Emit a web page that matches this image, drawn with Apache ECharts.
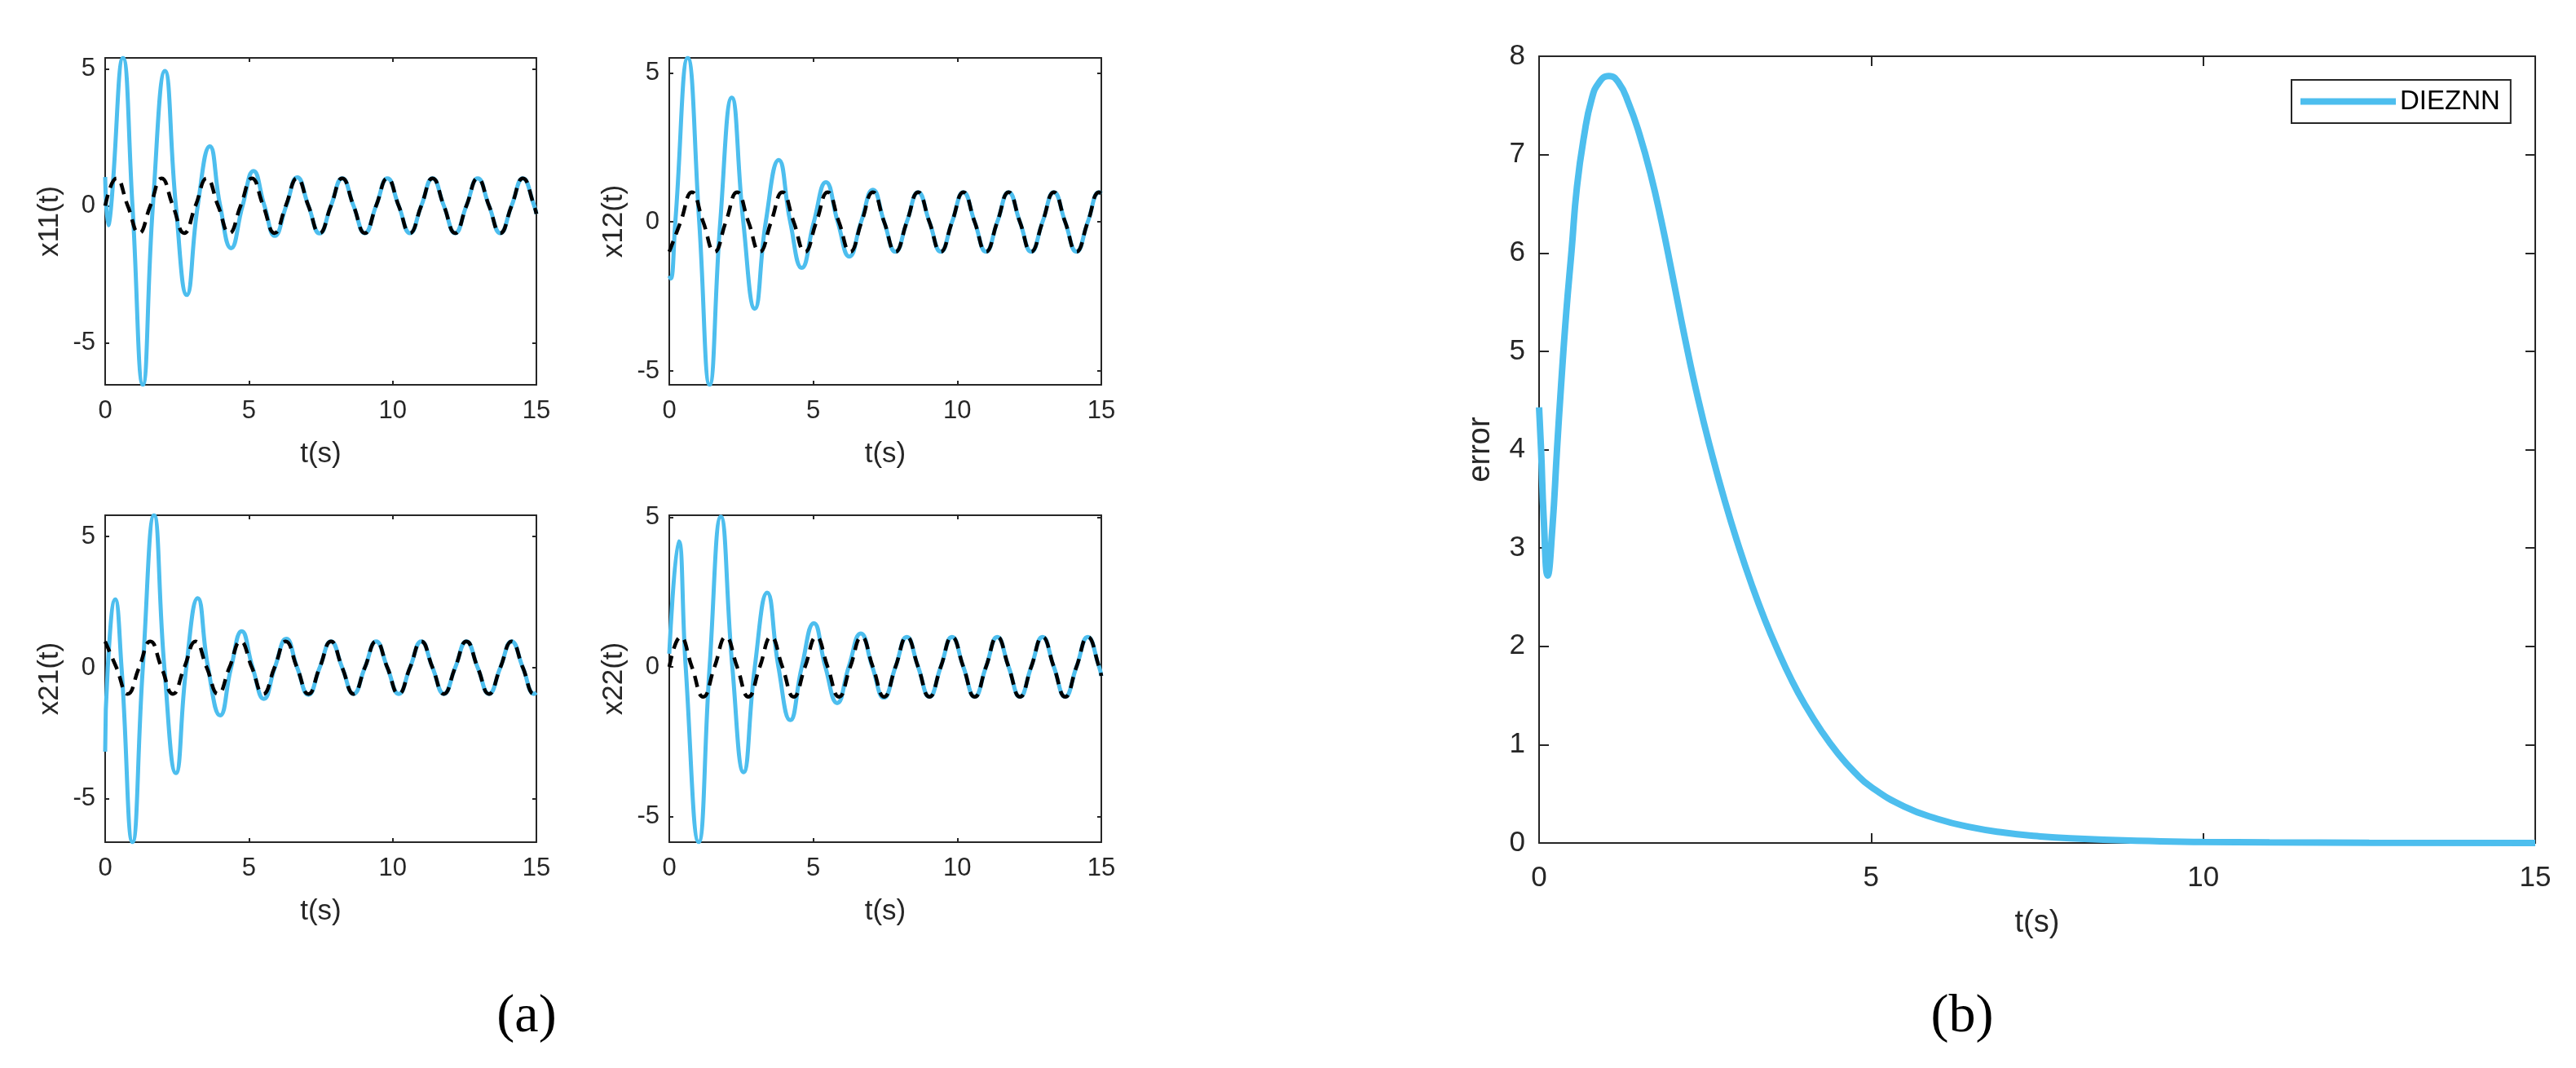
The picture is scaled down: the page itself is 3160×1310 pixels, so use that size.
<!DOCTYPE html>
<html><head><meta charset="utf-8">
<script src="https://cdn.jsdelivr.net/npm/echarts@6/dist/echarts.min.js"></script>
<style>html,body{margin:0;padding:0;background:#fff}#c{width:3160px;height:1310px}</style>
</head><body><div id="c"></div>
<script>
// ---------- data ----------
// time grid of the reference (theoretical) trajectories, quarter period of 4t
const refT = [0,0.393,0.785,1.178,1.571,1.963,2.356,2.749,3.142,3.534,3.927,4.320,4.712,5.105,5.498,5.890,6.283,6.676,7.069,7.461,7.854,8.247,8.639,9.032,9.425,9.817,10.210,10.603,10.996,11.388,11.781,12.174,12.566,12.959,13.352,13.744,14.137,14.530,14.923,15];
const x11Ref = [0,1,0,-1, 0,1,0,-1, 0,1,0,-1, 0,1,0,-1, 0,1,0,-1, 0,1,0,-1, 0,1,0,-1, 0,1,0,-1, 0,1,0,-1, 0,1,0,-0.3];
const x12Ref = [-1,0,1,0, -1,0,1,0, -1,0,1,0, -1,0,1,0, -1,0,1,0, -1,0,1,0, -1,0,1,0, -1,0,1,0, -1,0,1,0, -1,0,1,0.95];
const x21Ref = [1,0,-1,0, 1,0,-1,0, 1,0,-1,0, 1,0,-1,0, 1,0,-1,0, 1,0,-1,0, 1,0,-1,0, 1,0,-1,0, 1,0,-1,0, 1,0,-1,-0.95];
const x22Ref = [0,1,0,-1, 0,1,0,-1, 0,1,0,-1, 0,1,0,-1, 0,1,0,-1, 0,1,0,-1, 0,1,0,-1, 0,1,0,-1, 0,1,0,-1, 0,1,0,-0.3];

// DIEZNN solution, transient part (extrema and zero crossings); afterwards it lies on the reference
const x11T = [0,0.11,0.21,0.62,0.95,1.31,1.66,2.08,2.46,2.84,3.22,3.64,4.00,4.38,4.78,5.16,5.54,5.90,6.30,6.68,7.07,7.46];
const x11V = [1.05,-0.71,0,5.40,0,-6.54,0,4.92,0,-3.26,0,2.17,0,-1.55,0,1.27,0,-1.10,0,1.04,0,-1.01];
const x12T = [0,0.05,0.21,0.64,1.04,1.40,1.77,2.17,2.57,2.97,3.35,3.80,4.20,4.60,5.02,5.44,5.85,6.25,6.66,7.07];
const x12V = [-1.81,-1.90,0,5.50,0,-5.46,0,4.17,0,-2.91,0,2.08,0,-1.54,0,1.33,0,-1.16,0,1.08];
const x21T = [0,0.09,0.35,0.57,0.95,1.31,1.70,2.06,2.46,2.82,3.22,3.58,4.00,4.38,4.75,5.13,5.52,5.90,6.30,6.68,7.07];
const x21V = [-3.2,0,2.6,0,-6.65,0,5.81,0,-4.02,0,2.65,0,-1.82,0,1.39,0,-1.19,0,1.10,0,-1.03];
const x22T = [0,0.33,0.57,1.02,1.40,1.79,2.19,2.58,2.97,3.40,3.79,4.20,4.60,5.02,5.42,5.83,6.23,6.65,7.05,7.45];
const x22V = [0.44,4.2,0,-5.86,0,5.02,0,-3.52,0,2.48,0,-1.78,0,1.46,0,-1.21,0,1.12,0,-1.03];

// residual error of DIEZNN
const errT = [0,0.03,0.07,0.13,0.20,0.27,0.33,0.41,0.49,0.57,0.68,0.79,0.90,1.05,1.20,1.35,1.51,1.68,1.84,2.00,2.20,2.40,2.60,2.80,3.00,3.20,3.40,3.60,3.80,4.00,4.25,4.50,4.75,5.00,5.50,6.00,6.50,7.00,7.50,8.00,9.00,10.0,11.0,12.5,15.0];
const errV = [4.43,4.0,3.3,2.72,3.2,4.0,4.64,5.4,6.03,6.67,7.2,7.56,7.73,7.80,7.73,7.52,7.21,6.80,6.33,5.80,5.12,4.50,3.96,3.47,3.03,2.63,2.27,1.95,1.66,1.41,1.14,0.91,0.72,0.57,0.37,0.245,0.16,0.105,0.07,0.047,0.022,0.011,0.006,0.003,0.001];

const xTicks = [0,5,10,15];
const stateTicks = [-5,0,5];
const errTicks = [0,1,2,3,4,5,6,7,8];
const stateNames = ['x11(t)','x12(t)','x21(t)','x22(t)'];
const xName = 't(s)';
const errName = 'error';
const legendName = 'DIEZNN';
const panelLabels = ['(a)','(b)'];
// axis limits (tight to data) per panel
const stateYMin = [-6.54,-5.46,-6.65,-5.86];
const stateYMax = [5.40,5.50,5.81,5.07];

// ---------- build ----------
const FF = "'Liberation Sans', Arial, Helvetica, sans-serif";
const AX = '#262626';
const BLUE = '#4DBEEE';
function zip(t, v){ return t.map((x,i)=>[x, v[i]]); }
function merge(t, v, rt, rv){
  const last = t[t.length-1];
  const out = zip(t, v);
  rt.forEach((x,i)=>{ if (x > last + 0.2) out.push([x, rv[i]]); });
  return out;
}
const blueData = [merge(x11T,x11V,refT,x11Ref), merge(x12T,x12V,refT,x12Ref), merge(x21T,x21V,refT,x21Ref), merge(x22T,x22V,refT,x22Ref)];
const refData = [zip(refT,x11Ref), zip(refT,x12Ref), zip(refT,x21Ref), zip(refT,x22Ref)];

const gridPos = [
  {left:129, top:71, width:529, height:401},
  {left:821, top:71, width:530, height:401},
  {left:129, top:632, width:529, height:401},
  {left:821, top:632, width:530, height:401},
  {left:1888, top:69, width:1222, height:965}
];
const grid = gridPos.map(g=>Object.assign({containLabel:false, show:false}, g));
const xAxis = [], yAxis = [], series = [];

function mkX(gi, pos, show, tickLen, fs, margin, nameGap, nfs){
  return {type:'value', gridIndex:gi, position:pos, min:0, max:15, interval:5,
    axisLine:{show:true, onZero:false, lineStyle:{color:AX, width:2}},
    axisTick:{show:true, inside:true, length:tickLen, lineStyle:{color:AX, width:2}, customValues:xTicks},
    axisLabel:{show:show, margin:margin, fontSize:fs, color:AX, fontFamily:FF, customValues:xTicks},
    splitLine:{show:false},
    name: show ? xName : '', nameLocation:'middle', nameGap:nameGap,
    nameTextStyle:{fontSize:nfs, color:AX, fontFamily:FF}};
}
function mkY(gi, pos, show, min, max, ticks, tickLen, fs, margin, name, nameGap, nfs){
  return {type:'value', gridIndex:gi, position:pos, min:min, max:max,
    axisLine:{show:true, onZero:false, lineStyle:{color:AX, width:2}},
    axisTick:{show:true, inside:true, length:tickLen, lineStyle:{color:AX, width:2}, customValues:ticks},
    axisLabel:{show:show, margin:margin, fontSize:fs, color:AX, fontFamily:FF, customValues:ticks},
    splitLine:{show:false},
    name: show ? name : '', nameLocation:'middle', nameGap:nameGap,
    nameTextStyle:{fontSize:nfs, color:AX, fontFamily:FF}};
}

for (let i=0;i<4;i++){
  xAxis.push(mkX(i,'bottom',true,5,31,17,68,35));
  xAxis.push(mkX(i,'top',false,5,31,17,68,35));
  yAxis.push(mkY(i,'left',true,stateYMin[i],stateYMax[i],stateTicks,5,31,12,stateNames[i],50,35));
  yAxis.push(mkY(i,'right',false,stateYMin[i],stateYMax[i],stateTicks,5,31,12,'',50,35));
  series.push({type:'line', name:'sol'+i, xAxisIndex:2*i, yAxisIndex:2*i, data:blueData[i],
    smooth:0.5, showSymbol:false, symbol:'none', z:2,
    lineStyle:{color:BLUE, width:5}, itemStyle:{color:BLUE}});
  series.push({type:'line', name:'ref'+i, xAxisIndex:2*i, yAxisIndex:2*i, data:refData[i],
    smooth:0.5, showSymbol:false, symbol:'none', z:3,
    lineStyle:{color:'#000', width:4.5, type:[14,9]}, itemStyle:{color:'#000'}});
}
xAxis.push(mkX(4,'bottom',true,12,35,26,80,38));
xAxis.push(mkX(4,'top',false,12,35,26,80,38));
yAxis.push(mkY(4,'left',true,0,8,errTicks,12,35,17,errName,52,38));
yAxis.push(mkY(4,'right',false,0,8,errTicks,12,35,17,'',52,38));
series.push({type:'line', name:legendName, xAxisIndex:8, yAxisIndex:8, data:zip(errT,errV),
  smooth:0.5, showSymbol:false, symbol:'none', z:2,
  lineStyle:{color:BLUE, width:8}, itemStyle:{color:BLUE}});

const chart = echarts.init(document.getElementById('c'), null, {renderer:'canvas'});
chart.setOption({
  animation:false,
  backgroundColor:'#fff',
  grid:grid, xAxis:xAxis, yAxis:yAxis, series:series,
  legend:{show:true, data:[legendName], left:2811, top:98, padding:[10,13,10,11],
    borderColor:AX, borderWidth:2, backgroundColor:'#fff', icon:'rect', itemWidth:117, itemHeight:8,
    textStyle:{fontSize:33, color:'#000', fontFamily:FF}},
  graphic:[
    {type:'text', x:646, y:1248, style:{text:panelLabels[0], fontSize:66, fontFamily:"'Liberation Serif', 'Times New Roman', serif", fill:'#000', align:'center', verticalAlign:'middle'}},
    {type:'text', x:2407, y:1248, style:{text:panelLabels[1], fontSize:66, fontFamily:"'Liberation Serif', 'Times New Roman', serif", fill:'#000', align:'center', verticalAlign:'middle'}}
  ]
});
</script></body></html>
